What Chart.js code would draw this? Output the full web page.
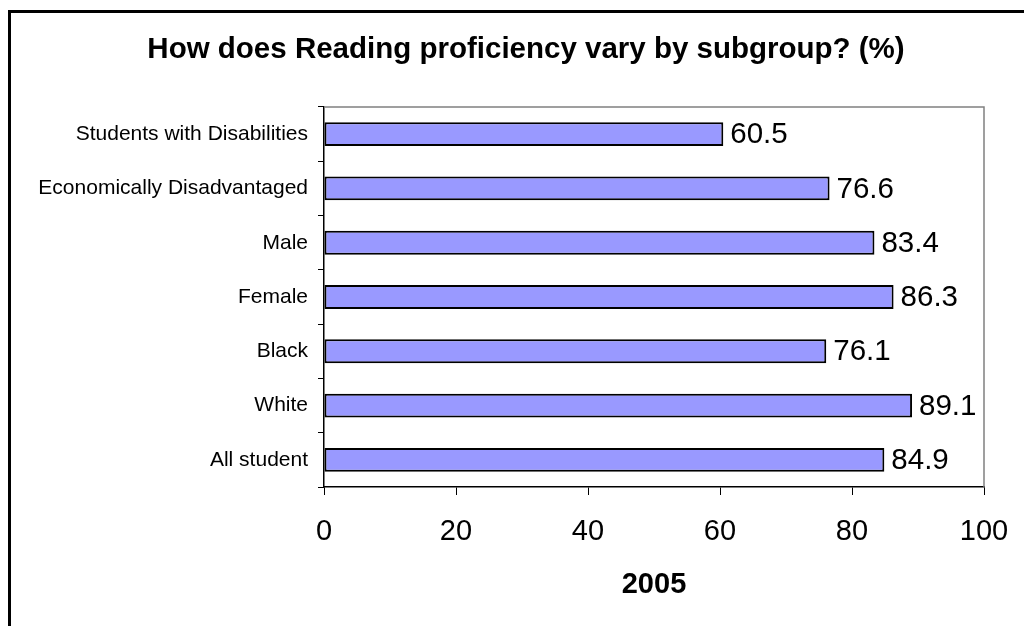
<!DOCTYPE html>
<html>
<head>
<meta charset="utf-8">
<script src="https://cdn.jsdelivr.net/npm/chart.js@4/dist/chart.umd.min.js"></script>
<style>
  html, body { margin: 0; padding: 0; background: #fff; }
  #wrap { width: 1024px; height: 626px; }
</style>
</head>
<body>
<div id="wrap"><canvas id="c" width="1024" height="626"></canvas></div>
<script>
// Reading proficiency by subgroup, 2005 (%)
const chartTitle = 'How does Reading proficiency vary by subgroup? (%)';
const axisTitle = '2005';
const subgroups = [
  'Students with Disabilities',
  'Economically Disadvantaged',
  'Male',
  'Female',
  'Black',
  'White',
  'All student'
];
const proficiency = [60.5, 76.6, 83.4, 86.3, 76.1, 89.1, 84.9];
const xTicks = [0, 20, 40, 60, 80, 100];

const FONT = "'Liberation Sans', Arial, Helvetica, sans-serif";

// Outer frame, title, plot border and axis caption
const decorations = {
  id: 'decorations',
  beforeDraw(chart) {
    const ctx = chart.ctx;
    ctx.save();
    ctx.fillStyle = '#fff';
    ctx.fillRect(0, 0, chart.width, chart.height);
    ctx.fillStyle = '#000';
    ctx.fillRect(8, 10, 1016, 3);
    ctx.fillRect(8, 10, 3, 616);
    ctx.restore();
  },
  afterDraw(chart) {
    const ctx = chart.ctx;
    const a = chart.chartArea;
    ctx.save();
    // grey top and right edge of plot area
    ctx.strokeStyle = '#808080';
    ctx.lineWidth = 1.5;
    ctx.beginPath();
    ctx.moveTo(a.left, a.top);
    ctx.lineTo(a.right, a.top);
    ctx.lineTo(a.right, a.bottom);
    ctx.stroke();
    // chart title
    ctx.fillStyle = '#000';
    ctx.font = 'bold 29.5px ' + FONT;
    ctx.textAlign = 'center';
    ctx.textBaseline = 'alphabetic';
    ctx.fillText(chartTitle, 526, 58);
    // axis caption
    ctx.font = 'bold 29px ' + FONT;
    ctx.fillText(axisTitle, (a.left + a.right) / 2, 593);
    ctx.restore();
  }
};

// Value printed to the right of each bar
const valueLabels = {
  id: 'valueLabels',
  afterDatasetsDraw(chart) {
    const ctx = chart.ctx;
    const meta = chart.getDatasetMeta(0);
    ctx.save();
    ctx.fillStyle = '#000';
    ctx.font = '29.5px ' + FONT;
    ctx.textAlign = 'left';
    ctx.textBaseline = 'middle';
    meta.data.forEach((bar, i) => {
      ctx.fillText(proficiency[i].toFixed(1), bar.x + 7, bar.y + 1);
    });
    ctx.restore();
  }
};

new Chart(document.getElementById('c'), {
  type: 'bar',
  data: {
    labels: subgroups,
    datasets: [{
      data: proficiency,
      backgroundColor: '#9999FF',
      borderColor: '#000',
      borderWidth: 2,
      borderSkipped: false,
      barPercentage: 0.44,
      categoryPercentage: 1
    }]
  },
  options: {
    indexAxis: 'y',
    responsive: false,
    animation: false,
    devicePixelRatio: 1,
    layout: { padding: { top: 107, right: 40, left: 0, bottom: 0 } },
    plugins: {
      legend: { display: false },
      tooltip: { enabled: false },
      title: { display: false }
    },
    scales: {
      x: {
        min: 0,
        max: 100,
        afterFit(scale) {
          scale.height = 139;
          scale.paddingLeft = 0;
          scale.paddingRight = 0;
        },
        afterBuildTicks(scale) { scale.ticks = xTicks.map(v => ({ value: v })); },
        grid: {
          drawOnChartArea: false,
          drawTicks: true,
          tickLength: 8,
          color: '#000',
          lineWidth: 1
        },
        border: { display: true, color: '#000', width: 1.5 },
        ticks: {
          color: '#000',
          padding: 20,
          maxRotation: 0,
          font: { family: FONT, size: 29 }
        }
      },
      y: {
        afterFit(scale) { scale.width = 324; },
        grid: {
          offset: true,
          drawOnChartArea: false,
          drawTicks: true,
          tickLength: 6,
          color: '#000',
          lineWidth: 1
        },
        border: { display: true, color: '#000', width: 1.5 },
        ticks: {
          color: '#000',
          padding: 10,
          autoSkip: false,
          font: { family: FONT, size: 21 }
        }
      }
    }
  },
  plugins: [decorations, valueLabels]
});
</script>
</body>
</html>
